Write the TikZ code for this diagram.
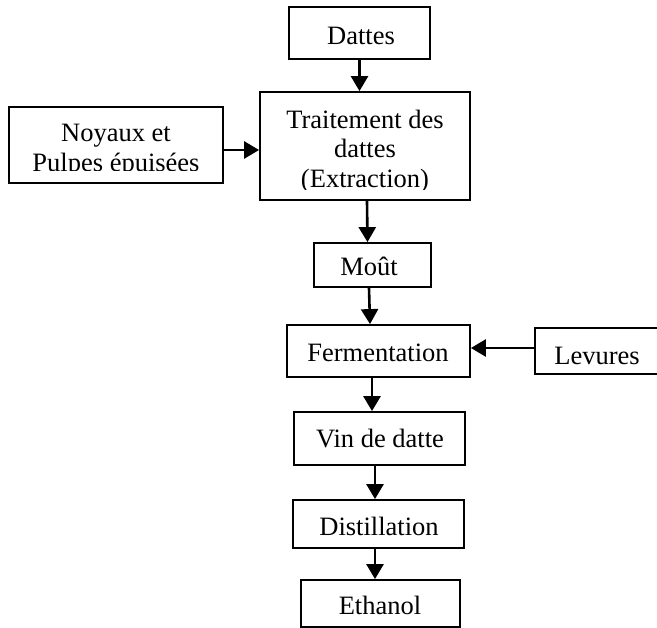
\documentclass[tikz,border=0pt]{standalone}
\usepackage{fontspec}
\setmainfont{Liberation Serif}
\usetikzlibrary{arrows.meta}
\begin{document}
\begin{tikzpicture}[x=1pt,y=-1pt,
  box/.style={draw=black,line width=1.8pt,rectangle,inner sep=0pt},
  txt/.style={font=\fontsize{26.5}{29}\selectfont,align=center,inner sep=0pt},
  arr/.style={line width=2.6pt,-{Triangle[length=15pt,width=17pt]}}]
\useasboundingbox (0,0) rectangle (657,628);
\clip (0,0) rectangle (657,628);
% boxes
\node[box,minimum width=141pt,minimum height=52pt] (d) at (359.5,33) {};
\node[box,minimum width=210pt,minimum height=108pt] (t) at (365,146) {};
\node[box,minimum width=214pt,minimum height=76pt] (n) at (116,145) {};
\node[box,minimum width=117pt,minimum height=44pt] (m) at (372.5,265) {};
\node[box,minimum width=183pt,minimum height=52pt] (f) at (378.5,351) {};
\node[box,minimum width=128pt,minimum height=46pt] (l) at (599,351) {};
\node[box,minimum width=171pt,minimum height=53pt] (v) at (379.5,438.5) {};
\node[box,minimum width=171pt,minimum height=48pt] (s) at (378.5,524) {};
\node[box,minimum width=159pt,minimum height=47pt] (e) at (380.5,603.5) {};
% texts
\node[txt,anchor=base] (dt) at (361,45) {Dattes};
\begin{scope}
\clip (262,94) rectangle (468,189.5);
\node[txt,anchor=base] (tt1) at (365,129) {Traitement des};
\node[txt,anchor=base] (tt2) at (365,158) {dattes};
\node[txt,anchor=base] (tt3) at (365,188) {(Extraction)};
\end{scope}
\begin{scope}
\clip (11,109) rectangle (221,171);
\node[txt,anchor=base] (nt1) at (116,142) {Noyaux et};
\node[txt,anchor=base] (nt2) at (116,172) {Pulpes épuisées};
\end{scope}
\begin{scope}
\clip (316,245) rectangle (429,276.5);
\node[txt,anchor=base] (mt) at (369,275.5) {Moût};
\end{scope}
\node[txt,anchor=base] (ft) at (378,362) {Fermentation};
\node[txt,anchor=base] (lt) at (597,365) {Levures};
\node[txt,anchor=base] (vt) at (380,448) {Vin de datte};
\node[txt,anchor=base] (st) at (379,536) {Distillation};
\node[txt,anchor=base] (et) at (380,615) {Ethanol};
% arrows
\draw[arr] (d.south) -- (d.south |- t.north);
\draw[arr] (n.east |- 0,150) -- (t.west |- 0,150);
\draw[arr] ([xshift=2pt]t.south) -- ([xshift=-5pt]m.north);
\draw[arr] ([xshift=-3.5pt]m.south) -- ([xshift=-8.5pt]f.north);
\draw[arr] (l.west |- 0,348) -- (f.east |- 0,348);
\draw[arr] ([xshift=-6.5pt]f.south) -- ([xshift=-7.5pt]v.north);
\draw[arr] ([xshift=-4.5pt]v.south) -- ([xshift=-3.5pt]s.north);
\draw[arr] ([xshift=-3.5pt]s.south) -- ([xshift=-5.5pt]e.north);
\end{tikzpicture}
\end{document}
